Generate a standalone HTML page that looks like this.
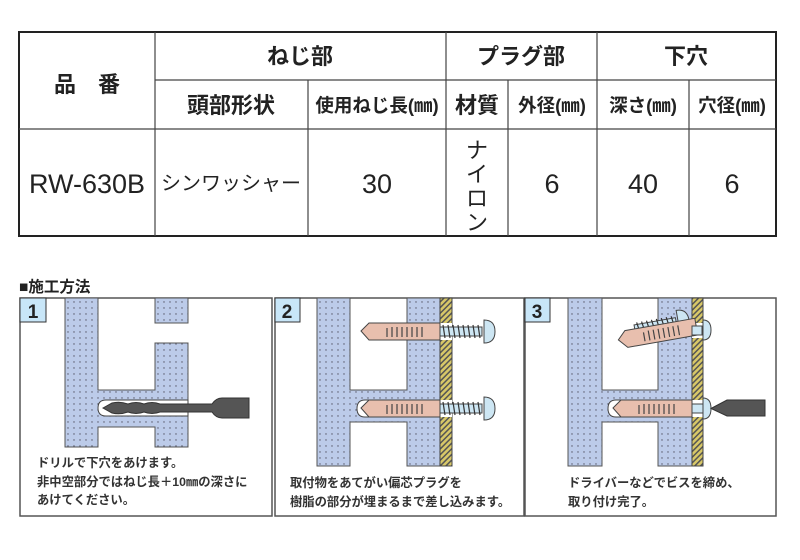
<!DOCTYPE html>
<html><head><meta charset="utf-8"><style>
body{margin:0;background:#fff}
svg{display:block}
text{font-family:"Liberation Sans","Noto Sans CJK JP",sans-serif;fill:#222}
.h{font-weight:bold;font-size:22px}
.s{font-size:12.3px;fill:#333;font-weight:bold}
</style></head><body>
<svg width="800" height="560" viewBox="0 0 800 560" xmlns="http://www.w3.org/2000/svg">
<defs>
<pattern id="dots" width="6" height="6" patternUnits="userSpaceOnUse">
<rect width="6" height="6" fill="#bccbe9"/><circle cx="2" cy="2" r="0.7" fill="#556"/>
</pattern>
<pattern id="hatch" width="4" height="4" patternUnits="userSpaceOnUse" patternTransform="rotate(45)">
<rect width="4" height="4" fill="#d8c868"/><rect width="1.5" height="4" fill="#555"/>
</pattern>
<g id="plug">
<path d="M0,8 L8,0 H79 V17 H8 Z" fill="#e8bfae" stroke="#444" stroke-width="1"/>
<path d="M26,5v9M31,4v10M36,4v10M41,4v10M46,4v10M51,4v10M56,4v10M61,4v10" stroke="#444" stroke-width="1.2"/>
</g>
<g id="screw">
<rect x="0" y="4" width="42" height="9" fill="#cde6f3" stroke="#444"/>
<path d="M3,2l2,13M8,2l2,13M13,2l2,13M18,2l2,13M23,2l2,13M28,2l2,13M33,2l2,13M38,2l2,13" stroke="#333" stroke-width="1.2"/>
<path d="M44,-3 Q55,-3 55,8.5 Q55,20 44,20 Z" fill="#cde6f3" stroke="#444"/>
</g>
</defs>

<!-- table -->
<rect x="19" y="32" width="757" height="204" fill="none" stroke="#222" stroke-width="2"/>
<g stroke="#444" stroke-width="1.2">
<line x1="155" y1="80" x2="776" y2="80"/>
<line x1="19" y1="129" x2="776" y2="129"/>
<line x1="155" y1="32" x2="155" y2="236"/>
<line x1="308" y1="80" x2="308" y2="236"/>
<line x1="446" y1="32" x2="446" y2="236"/>
<line x1="508" y1="80" x2="508" y2="236"/>
<line x1="597" y1="32" x2="597" y2="236"/>
<line x1="689" y1="80" x2="689" y2="236"/>
</g>
<g class="h" text-anchor="middle">
<text x="87" y="92">品　番</text>
<text x="300" y="64">ねじ部</text>
<text x="521" y="64">プラグ部</text>
<text x="686" y="64">下穴</text>
<text x="231" y="113">頭部形状</text>
<text x="377" y="112" font-size="18.5">使用ねじ長(㎜)</text>
<text x="477" y="113">材質</text>
<text x="552" y="112" font-size="18.5">外径(㎜)</text>
<text x="643" y="112" font-size="18.5">深さ(㎜)</text>
<text x="732" y="112" font-size="18.5">穴径(㎜)</text>
</g>
<g text-anchor="middle" font-size="27">
<text x="87" y="193">RW-630B</text>
<text x="231" y="190" font-size="20">シンワッシャー</text>
<text x="377" y="193">30</text>
<text x="552" y="193">6</text>
<text x="643" y="193">40</text>
<text x="732" y="193">6</text>
<text x="477" y="158" font-size="22">ナ</text>
<text x="477" y="182" font-size="22">イ</text>
<text x="477" y="206" font-size="22">ロ</text>
<text x="477" y="230" font-size="22">ン</text>
</g>

<text x="19" y="292" font-size="15.5" font-weight="bold">■施工方法</text>

<!-- panel 1 -->
<rect x="20" y="298" width="252" height="218" fill="none" stroke="#555" stroke-width="1.5"/>
<path d="M65,298 H98 V390 H155 V343 H188 V447 H155 V427 H98 V447 H65 Z" fill="url(#dots)" stroke="#555"/>
<rect x="155" y="298" width="33" height="25" fill="url(#dots)" stroke="#555"/>
<path d="M106,400 H188 V416 H106 Q98,416 98,408 Q98,400 106,400 Z" fill="#fff" stroke="#444"/>
<path d="M103,408 L112,403 Q120,401 128,404 Q136,401 144,404 Q152,401 160,404 L212,404 Q216,398 222,398 H249 V418 H222 Q216,418 212,412 L160,412 Q152,415 144,412 Q136,415 128,412 Q120,415 112,413 Z" fill="#555" stroke="#333"/>
<rect x="20" y="298" width="26" height="24" fill="#c8e6f8" stroke="#333"/>
<text x="33" y="318" font-size="19" font-weight="bold" text-anchor="middle">1</text>
<text class="s" x="37" y="467">ドリルで下穴をあけます。</text>
<text class="s" x="37" y="486">非中空部分ではねじ長＋10㎜の深さに</text>
<text class="s" x="37" y="504">あけてください。</text>

<!-- panel 2 -->
<rect x="275" y="298" width="249" height="218" fill="none" stroke="#555" stroke-width="1.5"/>
<path d="M317,298 H350 V390 H407 V298 H440 V466 H407 V422 H350 V466 H317 Z" fill="url(#dots)" stroke="#555"/>
<rect x="440" y="298" width="12" height="168" fill="url(#hatch)" stroke="#444"/>
<rect x="440" y="323" width="12" height="17" fill="#fff"/>
<rect x="440" y="400" width="12" height="17" fill="#fff"/>
<path d="M365,400 H440 V417 H365 Q357,417 357,408.5 Q357,400 365,400 Z" fill="#fff" stroke="#444"/>
<use href="#plug" x="361" y="323"/>
<use href="#plug" x="361" y="400"/>
<use href="#screw" x="440" y="323"/>
<use href="#screw" x="440" y="400"/>
<rect x="275" y="298" width="25" height="24" fill="#c8e6f8" stroke="#333"/>
<text x="287" y="318" font-size="19" font-weight="bold" text-anchor="middle">2</text>
<text class="s" x="290" y="487">取付物をあてがい偏芯プラグを</text>
<text class="s" x="290" y="506">樹脂の部分が埋まるまで差し込みます。</text>

<!-- panel 3 -->
<rect x="525" y="298" width="251" height="218" fill="none" stroke="#555" stroke-width="1.5"/>
<path d="M568,298 H602 V390 H658 V298 H692 V466 H658 V422 H602 V466 H568 Z" fill="url(#dots)" stroke="#555"/>
<rect x="692" y="298" width="11" height="168" fill="url(#hatch)" stroke="#444"/>
<rect x="692" y="323" width="11" height="15" fill="#fff"/>
<rect x="692" y="400" width="11" height="17" fill="#fff"/>
<path d="M616,400 H692 V417 H616 Q608,417 608,408.5 Q608,400 616,400 Z" fill="#fff" stroke="#444"/>
<g transform="translate(617,332) rotate(-10)">
<use href="#screw" x="18" y="-8" />
<use href="#plug" x="0" y="0"/>
</g>
<rect x="692" y="326" width="10" height="9" fill="#cde6f3" stroke="#444"/>
<path d="M703,320 Q711,320 711,330 Q711,340 703,340 Z" fill="#cde6f3" stroke="#444"/>
<use href="#plug" x="613" y="400"/>
<rect x="692" y="404" width="11" height="9" fill="#cde6f3" stroke="#444"/>
<path d="M703,398 Q711,398 711,408.5 Q711,419 703,419 Z" fill="#cde6f3" stroke="#444"/>
<path d="M711,408.5 L727,400 H765 V416 H727 Z" fill="#555" stroke="#333"/>
<rect x="525" y="298" width="25" height="24" fill="#c8e6f8" stroke="#333"/>
<text x="537" y="318" font-size="19" font-weight="bold" text-anchor="middle">3</text>
<text class="s" x="568" y="487">ドライバーなどでビスを締め、</text>
<text class="s" x="568" y="506">取り付け完了。</text>
</svg>
</body></html>
